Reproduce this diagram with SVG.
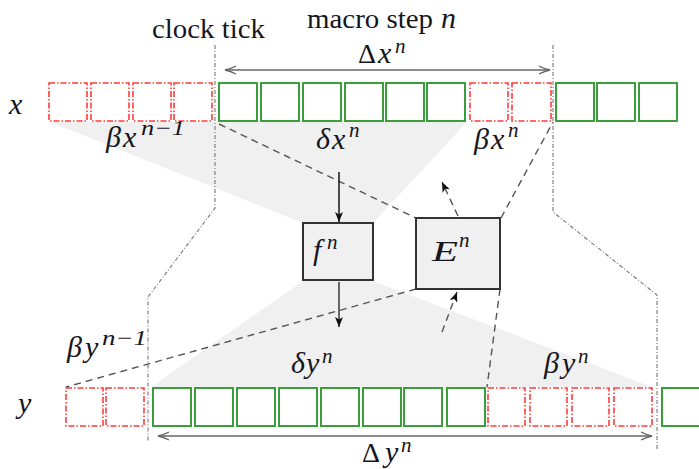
<svg xmlns="http://www.w3.org/2000/svg" width="699" height="469" viewBox="0 0 699 469">
<style>
.t{font-family:"Liberation Serif","DejaVu Serif",serif;fill:#15151d}
.m{font-style:italic;font-size:30px}
.u{font-style:normal;font-size:28px}
.s{font-style:italic;font-size:21px}
.rd{fill:none;stroke:#ff3b3b;stroke-width:1.6;stroke-dasharray:6,2,1.5,2}
.gr{fill:none;stroke:#3a9e3a;stroke-width:2}
.ck{fill:none;stroke:#777;stroke-width:1.1;stroke-dasharray:4,2,1,2}
.ds{fill:none;stroke:#555;stroke-width:1.4;stroke-dasharray:7,5}
.box{fill:#f0f0f0;stroke:#333;stroke-width:2}
.shade{fill:#f0f0f0;stroke:none}
.dl{fill:none;stroke:#666;stroke-width:1.5}
</style>
<defs>
<marker id="ah" viewBox="0 0 10 8" refX="10" refY="4" markerWidth="10" markerHeight="8" markerUnits="userSpaceOnUse" orient="auto">
<path d="M0,0 L10,4 L0,8 L2.5,4 z" fill="#111"/>
</marker>
<marker id="oh" viewBox="0 0 12 10" refX="11" refY="5" markerWidth="12" markerHeight="10" markerUnits="userSpaceOnUse" orient="auto-start-reverse">
<path d="M0,1 Q6,4 11,5 Q6,6 0,9" fill="none" stroke="#666" stroke-width="1.3"/>
</marker>
</defs>
<g id="shading">
<polygon class="shade" points="50,122 467,122 373,223 303,223"/>
<polygon class="shade" points="303,281 373,281 652,387 151,387"/>
</g>
<g id="clock-ticks">
<path class="ck" d="M215,45 L215,208 L148,297 L148,441"/>
<path class="ck" d="M553,45 L553,212 L657,295 L657,450"/>
</g>
<g id="row-x">
<rect class="rd" x="49" y="83" width="38" height="38"/>
<rect class="rd" x="91" y="83" width="38" height="38"/>
<rect class="rd" x="133" y="83" width="38" height="38"/>
<rect class="rd" x="174" y="83" width="38" height="38"/>
<rect class="gr" x="219" y="83" width="38" height="38"/>
<rect class="gr" x="261" y="83" width="38" height="38"/>
<rect class="gr" x="303" y="83" width="38" height="38"/>
<rect class="gr" x="345" y="83" width="38" height="38"/>
<rect class="gr" x="386" y="83" width="38" height="38"/>
<rect class="gr" x="427" y="83" width="38" height="38"/>
<rect class="rd" x="470" y="83" width="38" height="38"/>
<rect class="rd" x="512" y="83" width="39" height="38"/>
<rect class="gr" x="556" y="83" width="38" height="38"/>
<rect class="gr" x="597" y="83" width="38" height="38"/>
<rect class="gr" x="639" y="83" width="38" height="38"/>
</g>
<g id="row-y">
<rect class="rd" x="66" y="388" width="37" height="38"/>
<rect class="rd" x="106" y="388" width="38" height="38"/>
<rect class="gr" x="153" y="388" width="38" height="38"/>
<rect class="gr" x="195" y="388" width="38" height="38"/>
<rect class="gr" x="237" y="388" width="38" height="38"/>
<rect class="gr" x="279" y="388" width="38" height="38"/>
<rect class="gr" x="321" y="388" width="38" height="38"/>
<rect class="gr" x="363" y="388" width="38" height="38"/>
<rect class="gr" x="404" y="388" width="38" height="38"/>
<rect class="gr" x="447" y="388" width="38" height="38"/>
<rect class="rd" x="488" y="388" width="37" height="38"/>
<rect class="rd" x="530" y="388" width="37" height="38"/>
<rect class="rd" x="572" y="388" width="37" height="38"/>
<rect class="rd" x="614" y="388" width="38" height="38"/>
<rect class="gr" x="662" y="388" width="38" height="38"/>
</g>
<g id="connectors">
<path class="ds" d="M219,124 L416,218"/>
<path class="ds" d="M501,218 L553,122"/>
<path class="ds" d="M416,289 L66,387"/>
<path class="ds" d="M500,289 L487,387"/>
<path class="ds" d="M458,216 L442,182" marker-end="url(#ah)"/>
<path class="ds" d="M442,332 L457,292" marker-end="url(#ah)"/>
<path d="M339,172 L339,222" stroke="#222" stroke-width="1.6" fill="none" marker-end="url(#ah)"/>
<path d="M339,282 L339,327" stroke="#444" stroke-width="1.6" fill="none" marker-end="url(#ah)"/>
<path class="dl" d="M225,70 L550,70" marker-start="url(#oh)" marker-end="url(#oh)"/>
<path class="dl" d="M158,436 L652,436" marker-start="url(#oh)" marker-end="url(#oh)"/>
</g>
<g id="node-f">
<rect class="box" x="303" y="223" width="70" height="57"/>
<text class="t m" x="313" y="260">f</text>
<text class="t s" x="327" y="249">n</text>
</g>
<g id="node-E">
<rect class="box" x="416" y="218" width="84" height="71"/>
<text class="t m" x="432" y="261" textLength="26" lengthAdjust="spacingAndGlyphs">E</text>
<text class="t s" x="459" y="247">n</text>
</g>
<g id="labels">
<text class="t" x="152" y="38" font-size="28" textLength="113" lengthAdjust="spacingAndGlyphs">clock tick</text>
<text class="t" x="307" y="28" font-size="28" textLength="126" lengthAdjust="spacingAndGlyphs">macro step</text>
<text class="t m" x="441" y="28">n</text>
<text class="t u" x="358" y="63">Δ</text>
<text class="t m" x="378" y="63">x</text>
<text class="t s" x="395" y="53">n</text>
<text class="t m" x="9" y="114" font-size="32">x</text>
<text class="t m" x="18" y="413" font-size="32">y</text>
<text class="t m" x="106" y="147">β</text>
<text class="t m" x="123" y="147">x</text>
<text class="t s" x="141" y="135" textLength="44" lengthAdjust="spacingAndGlyphs">n−1</text>
<text class="t m" x="316" y="149">δ</text>
<text class="t m" x="332" y="149">x</text>
<text class="t s" x="349" y="137">n</text>
<text class="t m" x="474" y="149">β</text>
<text class="t m" x="491" y="149">x</text>
<text class="t s" x="508" y="137">n</text>
<text class="t m" x="67" y="357">β</text>
<text class="t m" x="85" y="357">y</text>
<text class="t s" x="102" y="345" textLength="45" lengthAdjust="spacingAndGlyphs">n−1</text>
<text class="t m" x="291" y="373">δ</text>
<text class="t m" x="306" y="373">y</text>
<text class="t s" x="322" y="363">n</text>
<text class="t m" x="544" y="373">β</text>
<text class="t m" x="562" y="373">y</text>
<text class="t s" x="578" y="363">n</text>
<text class="t u" x="362" y="462">Δ</text>
<text class="t m" x="385" y="462">y</text>
<text class="t s" x="401" y="452">n</text>
</g>
</svg>
